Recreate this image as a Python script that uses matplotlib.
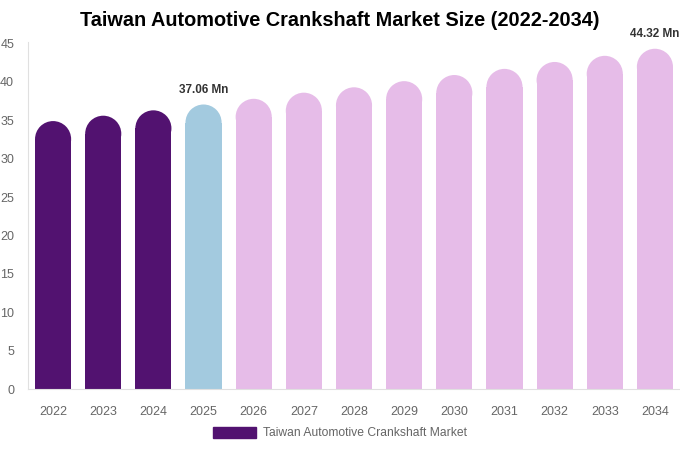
import matplotlib.pyplot as plt
from matplotlib.patches import Rectangle, Ellipse, Patch

plt.rcParams['font.family'] = ['Liberation Sans', 'DejaVu Sans']

years = ['2022', '2023', '2024', '2025', '2026', '2027', '2028',
         '2029', '2030', '2031', '2032', '2033', '2034']
values = [34.9, 35.6, 36.3, 37.06, 37.8, 38.6, 39.3,
          40.1, 40.9, 41.7, 42.6, 43.4, 44.32]
labelled = {3: '37.06 Mn', 12: '44.32 Mn'}

dark = '#521270'
blue = '#a3cadf'
pink = '#e6bce8'
colors = [dark] * 3 + [blue] + [pink] * 9

fig = plt.figure(figsize=(6.8, 4.5), dpi=100)
ax = fig.add_axes([28 / 680, 1 - 389 / 450, 652 / 680, 347 / 450])
ax.set_xlim(-0.5, len(years) - 0.5)
ax.set_ylim(0, 45.2)

# work out how tall a half-circle cap is in data units
bw = 0.72
px_x = ax.get_window_extent().width / len(years)
px_y = ax.get_window_extent().height / 45.2
cap_h = bw * px_x / px_y

for i, v in enumerate(values):
    body = v - cap_h / 2
    ax.add_patch(Rectangle((i - bw / 2, 0), bw, body, color=colors[i], lw=0))
    ax.add_patch(Ellipse((i, body), bw, cap_h, color=colors[i], lw=0))
    if i in labelled:
        ax.text(i, v + 1.1, labelled[i], ha='center', va='bottom',
                fontsize=8.5, fontweight='bold', color='#333333')

ax.set_xticks(range(len(years)))
ax.set_xticklabels(years)
ax.set_yticks(range(0, 46, 5))
ax.tick_params(axis='both', length=0, labelsize=9, colors='#666666')
ax.tick_params(axis='x', pad=12)
ax.tick_params(axis='y', pad=10)
for s in ['top', 'right']:
    ax.spines[s].set_visible(False)
ax.spines['left'].set_color('#e0e0e0')
ax.spines['bottom'].set_color('#e0e0e0')

fig.text(0.5, 1 - 21 / 450, 'Taiwan Automotive Crankshaft Market Size (2022-2034)',
         ha='center', va='center', fontsize=14.3, fontweight='bold')

fig.legend(handles=[Patch(color=dark, label='Taiwan Automotive Crankshaft Market')],
           loc='center', bbox_to_anchor=(0.5, 1 - 433 / 450), frameon=False,
           fontsize=8.7, handlelength=3.6, handleheight=1.0, handletextpad=0.6,
           labelcolor='#666666')

fig.savefig('out.png', dpi=100)
